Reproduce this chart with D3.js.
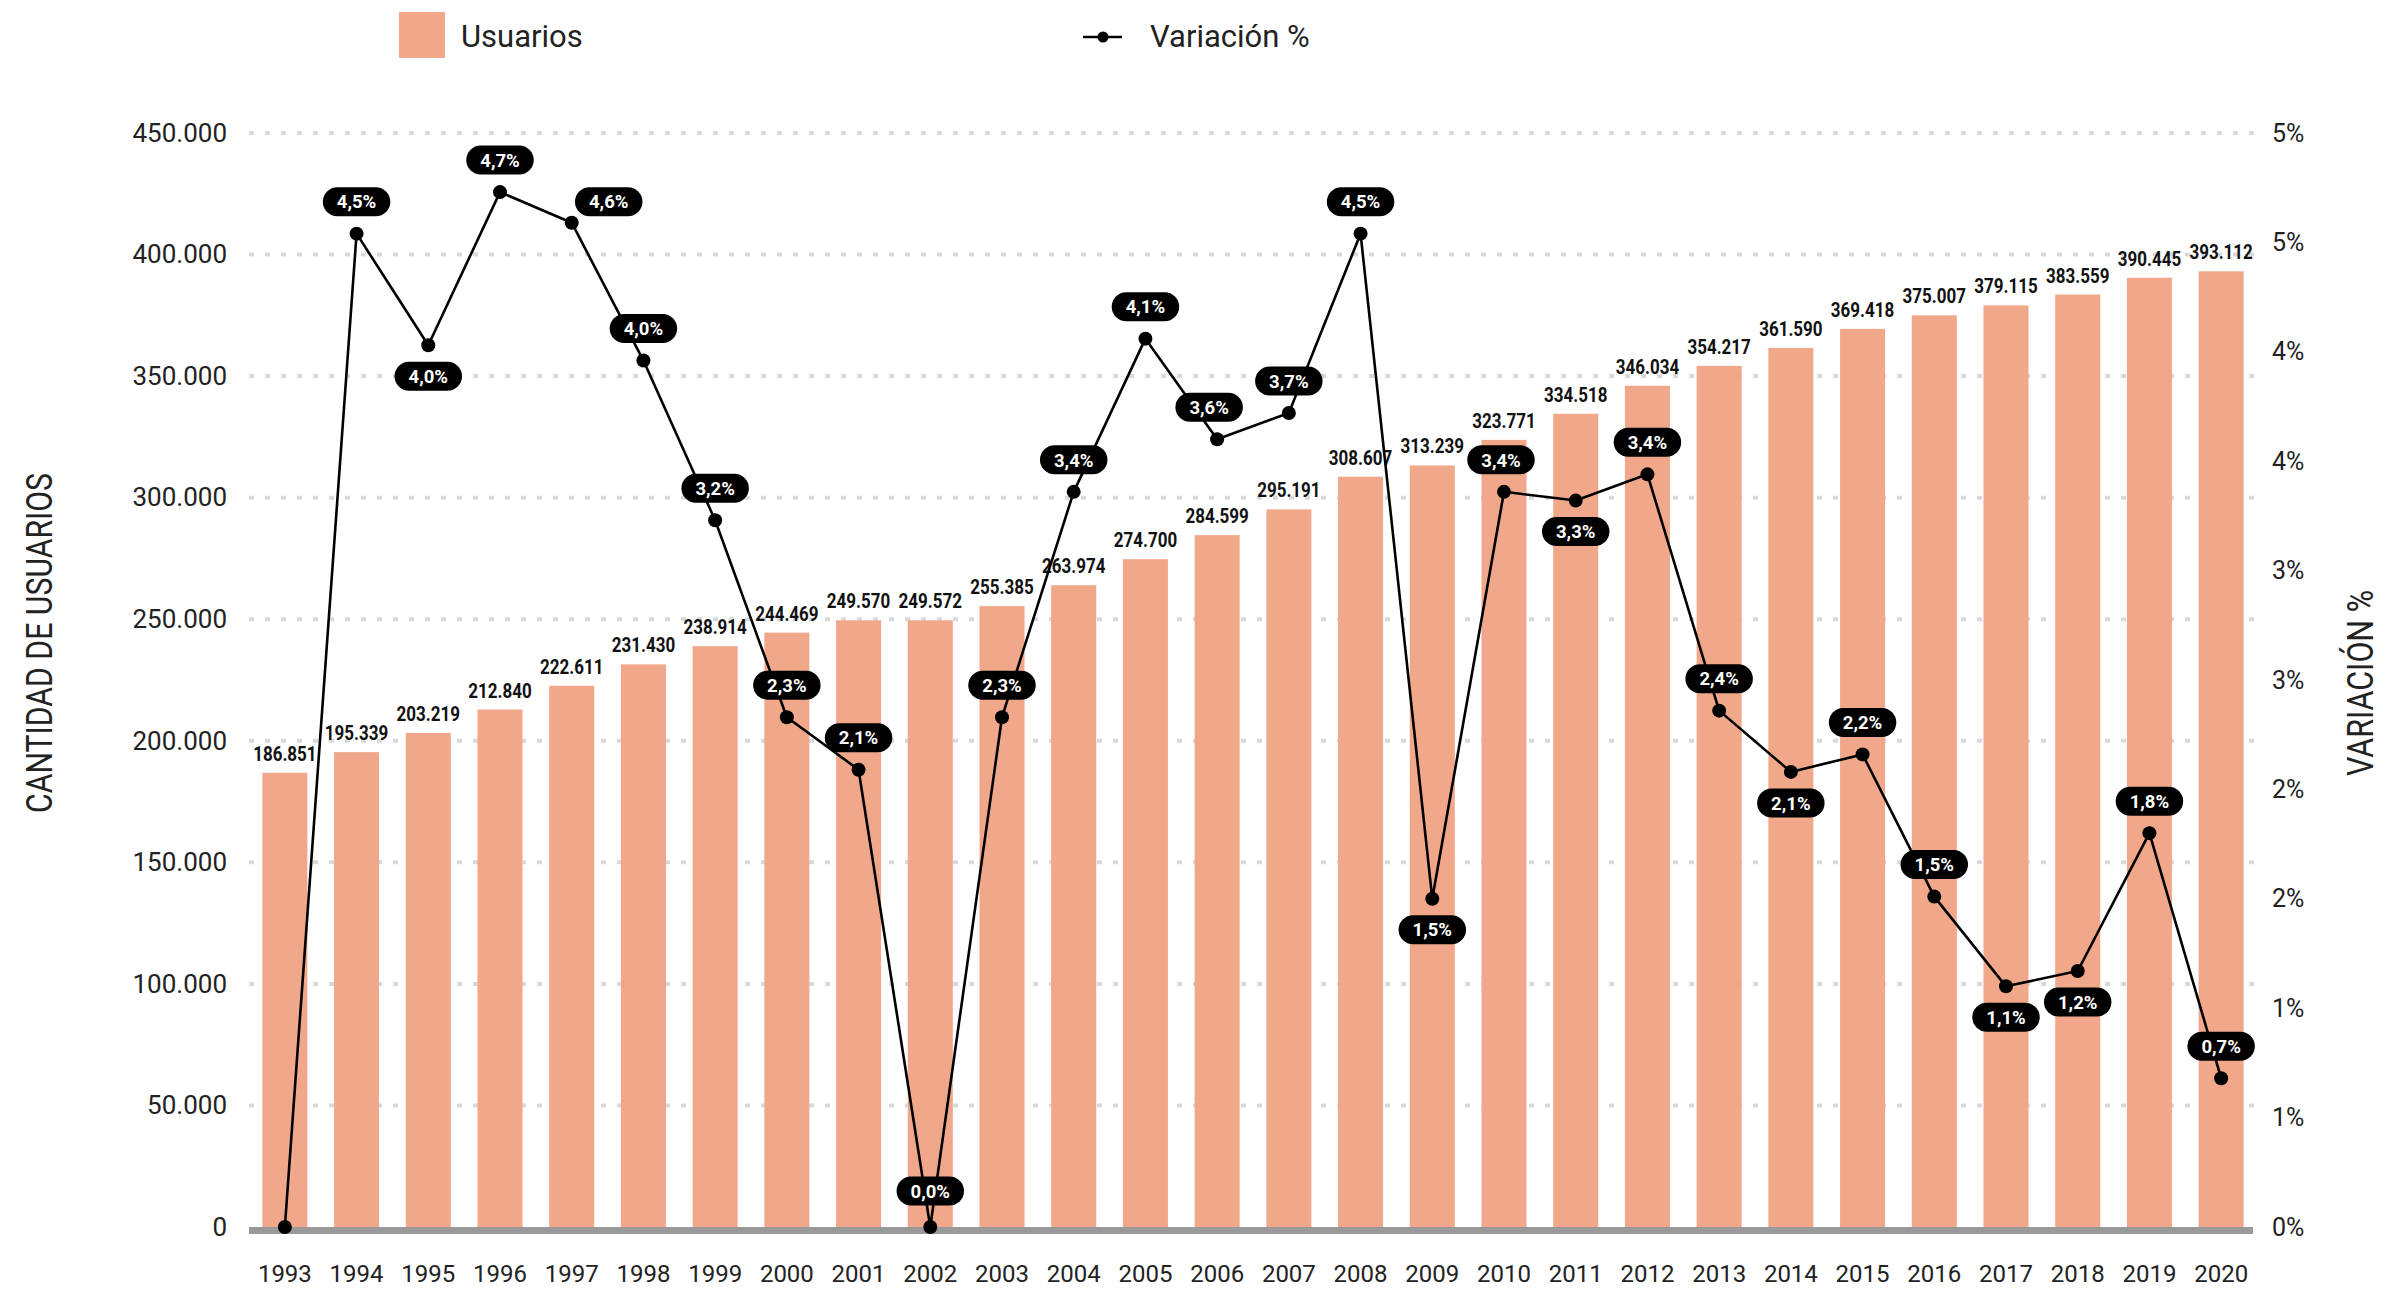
<!DOCTYPE html>
<html>
<head>
<meta charset="utf-8">
<script src="https://cdn.jsdelivr.net/npm/d3@7"></script>
<style>
  html, body { margin: 0; padding: 0; background: #fff; }
  svg { display: block; font-family: Roboto, "Noto Sans", sans-serif; }
</style>
</head>
<body>
<svg id="chart" width="2408" height="1290"></svg>
<script>
// ---- data ----
const years = ["1993","1994","1995","1996","1997","1998","1999","2000","2001","2002","2003","2004","2005","2006","2007","2008","2009","2010","2011","2012","2013","2014","2015","2016","2017","2018","2019","2020"];
const usuarios = [186851,195339,203219,212840,222611,231430,238914,244469,249570,249572,255385,263974,274700,284599,295191,308607,313239,323771,334518,346034,354217,361590,369418,375007,379115,383559,390445,393112];
const variacion = [0,4.54,4.03,4.73,4.59,3.96,3.23,2.33,2.09,0.00,2.33,3.36,4.06,3.60,3.72,4.54,1.50,3.36,3.32,3.44,2.36,2.08,2.16,1.51,1.10,1.17,1.80,0.68];
const leftTicks = [0,50000,100000,150000,200000,250000,300000,350000,400000,450000];
const rightTicks = [0,0.5,1,1.5,2,2.5,3,3.5,4,4.5,5];
const rightTickLabels = ["0%","1%","1%","2%","2%","3%","3%","4%","4%","5%","5%"];
const seriesNames = ["Usuarios","Variación %"];
const axisTitles = ["CANTIDAD DE USUARIOS","VARIACIÓN %"];
// label placement for the % pills (style, not data)
const pillBelow = new Set(["1995","2009","2011","2014","2017","2018"]);
const pillShiftX = {"1997": 37, "2006": -8, "2010": -3};
const pillShiftY = {"1997": -21, "2002": -36};
const pillHidden = new Set(["1993"]);

// ---- layout ----
const X0 = 249, X1 = 2257, Y0 = 1227, Y1 = 133;
const barColor = "#F1A88A";
const svg = d3.select("#chart");

const loc = d3.formatLocale({decimal: ",", thousands: ".", grouping: [3], currency: ["", ""]});
const fmtInt = loc.format(",d");
const fmtPct = v => loc.format(".1f")(v) + "%";

const x = d3.scaleBand().domain(years).range([X0, X1]).paddingInner(0.372).paddingOuter(0.186);
const yL = d3.scaleLinear().domain([0, 450000]).range([Y0, Y1]);
const yR = d3.scaleLinear().domain([0, 5]).range([Y0, Y1]);

// gridlines
svg.append("g").selectAll("line").data(leftTicks.filter(d => d > 0)).join("line")
  .attr("x1", X0).attr("x2", X1 - 2)
  .attr("y1", d => yL(d)).attr("y2", d => yL(d))
  .attr("stroke", "#d9d9d9").attr("stroke-width", 4).attr("stroke-dasharray", "5,11");

// bars
svg.append("g").selectAll("rect").data(years).join("rect")
  .attr("x", d => x(d)).attr("width", x.bandwidth())
  .attr("y", (d, i) => yL(usuarios[i])).attr("height", (d, i) => Y0 - yL(usuarios[i]))
  .attr("fill", barColor);

// baseline
svg.append("rect").attr("x", X0).attr("y", Y0).attr("width", X1 - X0 - 4).attr("height", 7).attr("fill", "#999");

// bar value labels
svg.append("g").selectAll("text").data(years).join("text")
  .attr("transform", (d, i) => `translate(${x(d) + x.bandwidth() / 2},${yL(usuarios[i]) - 12}) scale(0.85,1)`)
  .attr("text-anchor", "middle")
  .attr("font-size", 20).attr("font-weight", 700).attr("fill", "#111")
  .text((d, i) => fmtInt(usuarios[i]));

// left axis
const axL = svg.append("g").attr("transform", `translate(${X0},0)`)
  .call(d3.axisLeft(yL).tickValues(leftTicks).tickSize(0).tickPadding(22).tickFormat(fmtInt));
axL.select(".domain").remove();
axL.selectAll("text").attr("font-size", 26).attr("font-family", "Roboto").attr("fill", "#222");

// right axis
const axR = svg.append("g").attr("transform", `translate(${X1 - 1},0)`)
  .call(d3.axisRight(yR).tickValues(rightTicks).tickSize(0).tickPadding(16).tickFormat((d, i) => rightTickLabels[i]));
axR.select(".domain").remove();
axR.selectAll("text").attr("font-size", 25).attr("font-family", "Roboto").attr("fill", "#222");

// bottom axis
const axB = svg.append("g").attr("transform", `translate(0,${Y0})`)
  .call(d3.axisBottom(x).tickSize(0).tickPadding(38));
axB.select(".domain").remove();
axB.selectAll("text").attr("font-size", 24).attr("font-family", "Roboto").attr("fill", "#222");

// axis titles
svg.append("text").attr("transform", "translate(52,643) rotate(-90)")
  .attr("text-anchor", "middle").attr("font-size", 36).attr("fill", "#222")
  .attr("textLength", 340).attr("lengthAdjust", "spacingAndGlyphs")
  .text(axisTitles[0]);
svg.append("text").attr("transform", "translate(2373,683) rotate(-90)")
  .attr("text-anchor", "middle").attr("font-size", 36).attr("fill", "#222")
  .attr("textLength", 186).attr("lengthAdjust", "spacingAndGlyphs")
  .text(axisTitles[1]);

// line
const cx = d => x(d) + x.bandwidth() / 2;
const line = d3.line().x(d => cx(d)).y((d, i) => yR(variacion[i]));
svg.append("path").datum(years).attr("d", line)
  .attr("fill", "none").attr("stroke", "#000").attr("stroke-width", 2.6).attr("stroke-linejoin", "round");
svg.append("g").selectAll("circle").data(years).join("circle")
  .attr("cx", d => cx(d)).attr("cy", (d, i) => yR(variacion[i])).attr("r", 7).attr("fill", "#000");

// % pills
const pills = svg.append("g").selectAll("g").data(years.filter(d => !pillHidden.has(d))).join("g")
  .attr("transform", d => {
    const i = years.indexOf(d);
    const px = cx(d) + (pillShiftX[d] || 0);
    const dy = pillShiftY[d] !== undefined ? pillShiftY[d] : (pillBelow.has(d) ? 31 : -32);
    return `translate(${px},${yR(variacion[i]) + dy})`;
  });
pills.append("text").attr("text-anchor", "middle").attr("dy", "0.36em")
  .attr("font-size", 18.5).attr("font-weight", 700).attr("fill", "#fff")
  .text(d => fmtPct(variacion[years.indexOf(d)]));
pills.each(function() {
  const g = d3.select(this);
  const w = g.select("text").node().getComputedTextLength() + 28;
  g.insert("rect", "text").attr("x", -w / 2).attr("y", -14.5).attr("width", w).attr("height", 29)
    .attr("rx", 14.5).attr("fill", "#000");
});

// legend
svg.append("rect").attr("x", 399).attr("y", 12).attr("width", 46).attr("height", 46).attr("fill", barColor);
svg.append("text").attr("x", 461).attr("y", 47).attr("font-size", 31).attr("fill", "#222").text(seriesNames[0]);
svg.append("line").attr("x1", 1083).attr("x2", 1122).attr("y1", 37).attr("y2", 37).attr("stroke", "#000").attr("stroke-width", 2.6);
svg.append("circle").attr("cx", 1103).attr("cy", 37).attr("r", 5.5).attr("fill", "#000");
svg.append("text").attr("x", 1150).attr("y", 47).attr("font-size", 31).attr("fill", "#222").text(seriesNames[1]);
</script>
</body>
</html>
